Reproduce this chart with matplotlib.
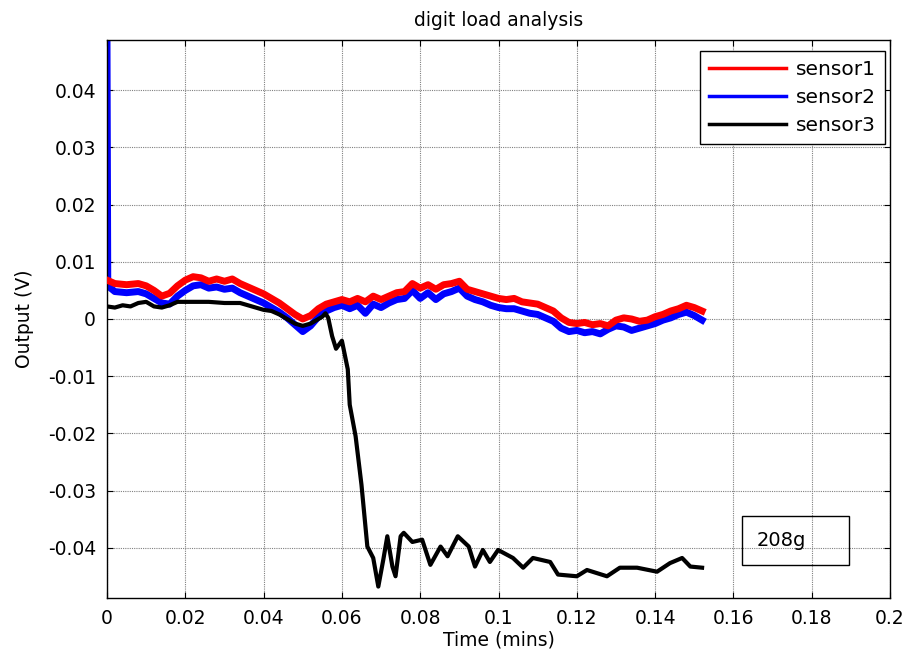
import matplotlib
matplotlib.use("Agg")
import matplotlib.pyplot as plt
from matplotlib.lines import Line2D
from matplotlib.patches import Rectangle

plt.rcParams['font.family'] = ['DejaVu Sans']

# ---------------- data ----------------
t1 = [0.0, 0.002, 0.005, 0.008, 0.010, 0.012, 0.014, 0.016, 0.018, 0.020,
      0.022, 0.024, 0.026, 0.028, 0.030, 0.032, 0.034, 0.036, 0.038, 0.040,
      0.042, 0.044, 0.046, 0.048, 0.050, 0.052, 0.054, 0.056, 0.058, 0.060,
      0.062, 0.064, 0.066, 0.068, 0.070, 0.072, 0.074, 0.076, 0.078, 0.080,
      0.082, 0.084, 0.086, 0.088, 0.090, 0.092, 0.094, 0.096, 0.098, 0.100,
      0.102, 0.104, 0.106, 0.108, 0.110, 0.112, 0.114, 0.116, 0.118, 0.120,
      0.122, 0.124, 0.126, 0.128, 0.130, 0.132, 0.134, 0.136, 0.138, 0.140,
      0.142, 0.144, 0.146, 0.148, 0.150, 0.152]
sensor1 = [0.0068, 0.0062, 0.0060, 0.0062, 0.0058, 0.0050, 0.0040, 0.0045, 0.0058, 0.0068,
           0.0074, 0.0072, 0.0066, 0.0070, 0.0066, 0.0070, 0.0062, 0.0056, 0.0050, 0.0044,
           0.0036, 0.0028, 0.0018, 0.0008, 0.0000, 0.0006, 0.0018, 0.0026, 0.0030, 0.0034,
           0.0030, 0.0036, 0.0030, 0.0040, 0.0034, 0.0040, 0.0046, 0.0048, 0.0062, 0.0054,
           0.0060, 0.0052, 0.0060, 0.0062, 0.0066, 0.0052, 0.0048, 0.0044, 0.0040, 0.0036,
           0.0034, 0.0036, 0.0030, 0.0028, 0.0026, 0.0020, 0.0014, 0.0002, -0.0006, -0.0008,
           -0.0006, -0.0010, -0.0008, -0.0012, -0.0002, 0.0002, 0.0000, -0.0004, -0.0002, 0.0004,
           0.0008, 0.0014, 0.0018, 0.0024, 0.0020, 0.0014]

t2 = [0.0, 0.0002, 0.002, 0.005, 0.008, 0.010, 0.012, 0.014, 0.016, 0.018, 0.020,
      0.022, 0.024, 0.026, 0.028, 0.030, 0.032, 0.034, 0.036, 0.038, 0.040,
      0.042, 0.044, 0.046, 0.048, 0.050, 0.052, 0.054, 0.056, 0.058, 0.060,
      0.062, 0.064, 0.066, 0.068, 0.070, 0.072, 0.074, 0.076, 0.078, 0.080,
      0.082, 0.084, 0.086, 0.088, 0.090, 0.092, 0.094, 0.096, 0.098, 0.100,
      0.102, 0.104, 0.106, 0.108, 0.110, 0.112, 0.114, 0.116, 0.118, 0.120,
      0.122, 0.124, 0.126, 0.128, 0.130, 0.132, 0.134, 0.136, 0.138, 0.140,
      0.142, 0.144, 0.146, 0.148, 0.150, 0.152]
sensor2 = [0.0490, 0.0058, 0.0048, 0.0046, 0.0048, 0.0044, 0.0036, 0.0028, 0.0026, 0.0040, 0.0050,
           0.0058, 0.0060, 0.0054, 0.0056, 0.0052, 0.0054, 0.0046, 0.0040, 0.0034, 0.0028,
           0.0020, 0.0012, 0.0002, -0.0010, -0.0022, -0.0012, 0.0004, 0.0014, 0.0020, 0.0024,
           0.0018, 0.0024, 0.0010, 0.0026, 0.0020, 0.0028, 0.0034, 0.0036, 0.0050, 0.0036,
           0.0046, 0.0034, 0.0044, 0.0048, 0.0054, 0.0040, 0.0034, 0.0030, 0.0024, 0.0020,
           0.0018, 0.0018, 0.0014, 0.0010, 0.0008, 0.0002, -0.0004, -0.0016, -0.0022, -0.0020,
           -0.0024, -0.0022, -0.0026, -0.0018, -0.0012, -0.0014, -0.0020, -0.0016, -0.0012, -0.0008,
           -0.0002, 0.0002, 0.0008, 0.0012, 0.0006, -0.0002]

t3 = [0.0, 0.002, 0.004, 0.006, 0.008, 0.010, 0.012, 0.014, 0.016, 0.018,
      0.022, 0.026, 0.030, 0.034, 0.036, 0.038, 0.040, 0.042, 0.044, 0.046,
      0.048, 0.050, 0.052, 0.054, 0.055, 0.0558, 0.0565, 0.0575, 0.0585, 0.060,
      0.0615, 0.062, 0.0635, 0.065, 0.0665, 0.068, 0.0693, 0.0706, 0.0716, 0.0729,
      0.0737, 0.075, 0.0758, 0.078, 0.0805, 0.0826, 0.0852, 0.0870, 0.0896, 0.0924,
      0.0940, 0.0960, 0.0978, 0.0999, 0.1037, 0.1063, 0.1088, 0.1132, 0.1152, 0.1200,
      0.1226, 0.1277, 0.1310, 0.1354, 0.1405, 0.1438, 0.1469, 0.1490, 0.1520]
sensor3 = [0.0022, 0.0020, 0.0024, 0.0022, 0.0028, 0.0030, 0.0022, 0.0020, 0.0024, 0.0030,
           0.0030, 0.0030, 0.0028, 0.0028, 0.0024, 0.0020, 0.0016, 0.0014, 0.0008, 0.0000,
           -0.0008, -0.0012, -0.0008, 0.0000, 0.0004, 0.0010, 0.0002, -0.0030, -0.0052, -0.0038,
           -0.0088, -0.0150, -0.0205, -0.0290, -0.0398, -0.0418, -0.0468, -0.0420, -0.0380, -0.0433,
           -0.0450, -0.0380, -0.0374, -0.0390, -0.0386, -0.0430, -0.0398, -0.0415, -0.0380, -0.0398,
           -0.0433, -0.0404, -0.0425, -0.0404, -0.0418, -0.0435, -0.0418, -0.0425, -0.0447, -0.0450,
           -0.0439, -0.0450, -0.0435, -0.0435, -0.0442, -0.0427, -0.0418, -0.0433, -0.0435]

labels = ["sensor1", "sensor2", "sensor3"]
xticks = [0, 0.02, 0.04, 0.06, 0.08, 0.1, 0.12, 0.14, 0.16, 0.18, 0.2]
xticklabels = ["0", "0.02", "0.04", "0.06", "0.08", "0.1", "0.12", "0.14", "0.16", "0.18", "0.2"]
yticks = [-0.04, -0.03, -0.02, -0.01, 0, 0.01, 0.02, 0.03, 0.04]
yticklabels = ["-0.04", "-0.03", "-0.02", "-0.01", "0", "0.01", "0.02", "0.03", "0.04"]

# ---------------- figure ----------------
fig = plt.figure(figsize=(9.14, 6.57), dpi=100)
ax = fig.add_axes([107/914, 1 - 598/657, (890-107)/914, (598-40)/657])

ax.plot(t1, sensor1, color='#ff0000', lw=5.0, solid_joinstyle='round', zorder=3)
ax.plot(t2, sensor2, color='#0000ff', lw=5.0, solid_joinstyle='round', zorder=2)
ax.plot(t3, sensor3, color='#000000', lw=3.0, solid_joinstyle='round', zorder=4)

ax.set_xlim(0, 0.2)
ax.set_ylim(-0.0488, 0.0488)
ax.set_xticks(xticks)
ax.set_xticklabels(xticklabels)
ax.set_yticks(yticks)
ax.set_yticklabels(yticklabels)
ax.tick_params(direction='in', top=True, right=True, length=4, width=0.8,
               labelsize=13.5, pad=8)
ax.grid(True, linestyle=(0, (1, 1)), color='#808080', linewidth=0.8)
for s in ax.spines.values():
    s.set_linewidth(1.0)
    s.set_color('black')

ax.set_title("digit load analysis", fontsize=13.5, pad=10)
ax.set_xlabel("Time (mins)", fontsize=13.5, labelpad=2)
ax.set_ylabel("Output (V)", fontsize=13.5, labelpad=10)

handles = [Line2D([], [], color='#ff0000', lw=2.5),
           Line2D([], [], color='#0000ff', lw=2.5),
           Line2D([], [], color='#000000', lw=2.5)]
leg = ax.legend(handles, labels, loc='upper right', bbox_to_anchor=(0.9936, 0.980),
                borderaxespad=0, fontsize=14.5, fancybox=False, framealpha=1,
                edgecolor='black', handlelength=3.8, labelspacing=0.45,
                handletextpad=0.5, borderpad=0.45)
leg.get_frame().set_linewidth(1.0)
leg.set_zorder(10)

# annotation box
fig.text(757/914, 1 - 541/657, "208g", fontsize=14, ha='left', va='center')
fig.patches.append(Rectangle((742/914, 1 - 565/657), (849-742)/914, (565-516)/657,
                             transform=fig.transFigure, fill=False,
                             edgecolor='black', linewidth=1.0))

fig.savefig("out.png", dpi=100)
